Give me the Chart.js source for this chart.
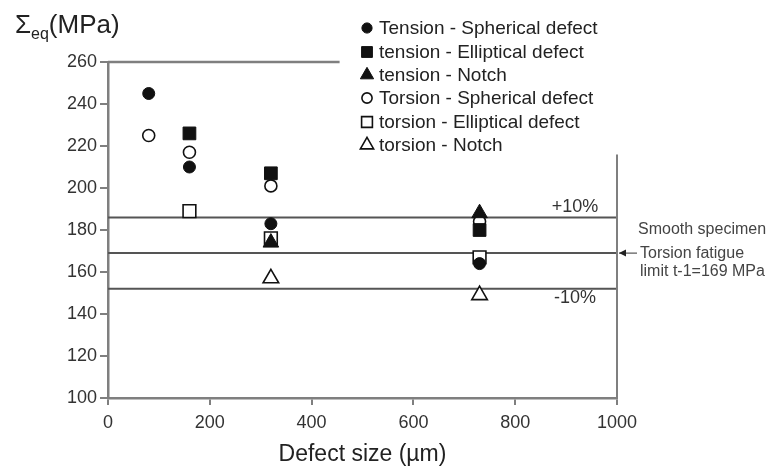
<!DOCTYPE html>
<html>
<head>
<meta charset="utf-8">
<script src="https://cdn.jsdelivr.net/npm/chart.js@4.4.1/dist/chart.umd.min.js"></script>
<style>
  html, body { margin: 0; padding: 0; background: #fff; }
  #wrap { width: 772px; height: 468px; }
</style>
</head>
<body>
<div id="wrap"><canvas id="chart" width="772" height="468"></canvas></div>
<script>
// defect sizes (µm) at which the specimens were tested
const defectSizes = [80, 160, 320, 730];

// Σeq (MPa) per series, null where there is no point
const tensionSpherical  = [245, 210, 183, 164];
const tensionElliptical = [null, 226, 207, 180];
const tensionNotch      = [null, null, 174, 188];
const torsionSpherical  = [225, 217, 201, 184];
const torsionElliptical = [null, 189, 176, 167];
const torsionNotch      = [null, null, 157, 149];

const seriesNames = [
    "Tension - Spherical defect",
    "tension - Elliptical defect",
    "tension - Notch",
    "Torsion - Spherical defect",
    "torsion - Elliptical defect",
    "torsion - Notch"
];

// smooth specimen torsion fatigue limit and the +/-10% band
const refLevels = [186, 169, 152];
const refLabels = ["+10%", "", "-10%"];

const xRange = [0, 1000];
const yRange = [100, 260];
const xStep = 200;
const yStep = 20;

const FONT = "'Liberation Sans', Arial, Helvetica, sans-serif";
const AXIS = "#7f7f7f";

function toPoints(vals) {
    return defectSizes
        .map((x, i) => ({ x: x, y: vals[i] }))
        .filter(p => p.y !== null);
}

function markerSet(label, vals, style, radius, filled) {
    return {
        label: label,
        data: toPoints(vals),
        pointStyle: style,
        pointRadius: radius,
        pointHoverRadius: radius,
        pointBackgroundColor: filled ? "#111" : "#fff",
        pointBorderColor: "#111",
        pointBorderWidth: filled ? 1 : 1.6,
        showLine: false
    };
}

const datasets = [
    markerSet(seriesNames[0], tensionSpherical, "circle", 6, true),
    markerSet(seriesNames[1], tensionElliptical, "rect", 9, true),
    markerSet(seriesNames[2], tensionNotch, "triangle", 9, true),
    markerSet(seriesNames[3], torsionSpherical, "circle", 6, false),
    markerSet(seriesNames[4], torsionElliptical, "rect", 9, false),
    markerSet(seriesNames[5], torsionNotch, "triangle", 9, false)
];

// horizontal reference lines, drawn under the markers
refLevels.forEach((lvl, i) => {
    datasets.push({
        label: "ref" + i,
        data: [{ x: xRange[0], y: lvl }, { x: xRange[1], y: lvl }],
        showLine: true,
        borderColor: "#555",
        borderWidth: 2,
        pointRadius: 0,
        fill: false
    });
});

// the rest of the figure: partial frame, legend, notes and titles
const extras = {
    id: "extras",
    afterDraw(chart) {
        const ctx = chart.ctx;
        const xs = chart.scales.x;
        const ys = chart.scales.y;
        const area = chart.chartArea;
        ctx.save();

        // top frame line stops before the legend, right one starts below it
        ctx.strokeStyle = AXIS;
        ctx.lineWidth = 2.5;
        ctx.beginPath();
        ctx.moveTo(area.left, ys.getPixelForValue(yRange[1]));
        ctx.lineTo(xs.getPixelForValue(455), ys.getPixelForValue(yRange[1]));
        ctx.stroke();
        ctx.lineWidth = 2;
        ctx.beginPath();
        ctx.moveTo(area.right, ys.getPixelForValue(216));
        ctx.lineTo(area.right, area.bottom);
        ctx.stroke();

        // band labels
        ctx.fillStyle = "#333";
        ctx.font = "18px " + FONT;
        ctx.textAlign = "center";
        ctx.textBaseline = "middle";
        ctx.fillText(refLabels[0], 575, ys.getPixelForValue(refLevels[0]) - 10);
        ctx.fillText(refLabels[2], 575, ys.getPixelForValue(refLevels[2]) + 9);

        // arrow to the fatigue limit line
        const yl = ys.getPixelForValue(refLevels[1]);
        ctx.strokeStyle = "#333";
        ctx.lineWidth = 1;
        ctx.beginPath();
        ctx.moveTo(area.right + 2, yl);
        ctx.lineTo(area.right + 20, yl);
        ctx.stroke();
        ctx.fillStyle = "#222";
        ctx.beginPath();
        ctx.moveTo(area.right + 2, yl);
        ctx.lineTo(area.right + 9, yl - 3.5);
        ctx.lineTo(area.right + 9, yl + 3.5);
        ctx.closePath();
        ctx.fill();

        ctx.fillStyle = "#444";
        ctx.font = "16px " + FONT;
        ctx.textAlign = "left";
        ctx.fillText("Smooth specimen", 638, yl - 24);
        ctx.fillText("Torsion fatigue", 640, yl);
        ctx.fillText("limit t-1=169 MPa", 640, yl + 18);

        // legend
        const rowY = [28, 52, 75, 98, 122, 145];
        ctx.font = "19px " + FONT;
        ctx.textAlign = "left";
        ctx.textBaseline = "middle";
        for (let i = 0; i < seriesNames.length; i++) {
            const ds = chart.data.datasets[i];
            ctx.fillStyle = ds.pointBackgroundColor;
            ctx.strokeStyle = ds.pointBorderColor;
            ctx.lineWidth = ds.pointBorderWidth;
            Chart.helpers.drawPoint(ctx, {
                pointStyle: ds.pointStyle,
                radius: ds.pointRadius * 0.85,
                borderWidth: ds.pointBorderWidth,
                rotation: 0
            }, 367, rowY[i]);
            ctx.fillStyle = "#222";
            ctx.fillText(seriesNames[i], 379, rowY[i] + 1);
        }

        // y title with subscript
        ctx.fillStyle = "#222";
        ctx.textBaseline = "alphabetic";
        ctx.font = "26px " + FONT;
        ctx.fillText("\u03A3", 15, 33);
        let w = ctx.measureText("\u03A3").width;
        ctx.font = "16px " + FONT;
        ctx.fillText("eq", 15 + w, 39);
        w += ctx.measureText("eq").width;
        ctx.font = "26px " + FONT;
        ctx.fillText("(MPa)", 15 + w, 33);

        // x title
        ctx.font = "23px " + FONT;
        ctx.textAlign = "center";
        ctx.fillText("Defect size (\u00B5m)", (area.left + area.right) / 2, 461);

        ctx.restore();
    }
};

const ctx = document.getElementById("chart").getContext("2d");
new Chart(ctx, {
    type: "scatter",
    data: { datasets: datasets },
    options: {
        responsive: false,
        animation: false,
        events: [],
        layout: { padding: { left: 0, top: 62, right: 155, bottom: 0 } },
        plugins: {
            legend: { display: false },
            tooltip: { enabled: false }
        },
        scales: {
            x: {
                type: "linear",
                min: xRange[0],
                max: xRange[1],
                ticks: {
                    stepSize: xStep, color: "#333", font: { family: FONT, size: 18 },
                    padding: 7, maxRotation: 0,
                    callback: v => String(v)
                },
                grid: { drawOnChartArea: false, drawTicks: true, tickLength: 7, color: AXIS, lineWidth: 2 },
                border: { display: true, color: AXIS, width: 2.5 },
                afterFit(scale) { scale.height = 70; }
            },
            y: {
                type: "linear",
                min: yRange[0],
                max: yRange[1],
                ticks: {
                    stepSize: yStep, color: "#333", font: { family: FONT, size: 18 },
                    padding: 3,
                    callback: v => String(v)
                },
                grid: { drawOnChartArea: false, drawTicks: true, tickLength: 8, color: AXIS, lineWidth: 2 },
                border: { display: true, color: AXIS, width: 2.5 },
                afterFit(scale) { scale.width = 108; }
            }
        }
    },
    plugins: [extras]
});
</script>
</body>
</html>
